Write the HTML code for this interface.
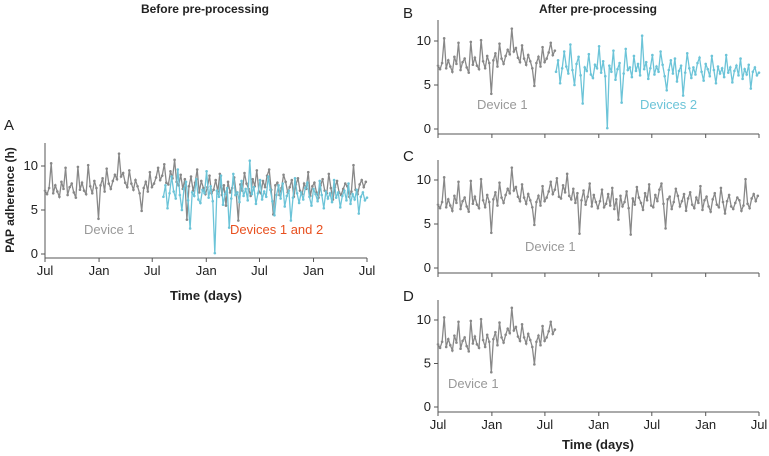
<!DOCTYPE html>
<html><head><meta charset="utf-8">
<style>
html,body{margin:0;padding:0;background:#fff;}
svg{display:block;font-family:"Liberation Sans",Arial,sans-serif;}
</style></head>
<body>
<svg id="chart" width="769" height="456" viewBox="0 0 769 456" xmlns="http://www.w3.org/2000/svg">
<text x="205" y="13" text-anchor="middle" font-size="12" font-weight="bold" fill="#222">Before pre-processing</text>
<text x="598" y="13" text-anchor="middle" font-size="12" font-weight="bold" fill="#222">After pre-processing</text>
<text x="4" y="130" font-size="15" fill="#222">A</text>
<text x="403" y="18" font-size="15" fill="#222">B</text>
<text x="403" y="161" font-size="15" fill="#222">C</text>
<text x="403" y="301" font-size="15" fill="#222">D</text>
<text transform="translate(14,200) rotate(-90)" text-anchor="middle" font-size="12" font-weight="bold" fill="#222">PAP adherence (h)</text>
<text x="206" y="300" text-anchor="middle" font-size="13" font-weight="bold" fill="#222">Time (days)</text>
<text x="598" y="449" text-anchor="middle" font-size="13" font-weight="bold" fill="#222">Time (days)</text>
</svg>
<script>
const tickDays=[0,184,365,549,730,914,1096];
const tickLabels=["Jul","Jan","Jul","Jan","Jul","Jan","Jul"];
const yTicks=[0,5,10];
const device1Start=0;
const device1Step=7;
const device1Values=[7.2,6.8,7.5,10.3,6.9,7.8,7.1,6.5,8.2,7.4,9.8,6.7,7.6,8.0,7.0,6.4,9.9,7.3,8.1,7.2,6.8,10.1,7.7,6.9,8.3,7.5,4.0,
7.8,8.6,7.1,9.7,8.0,7.4,8.3,9.0,8.5,11.4,8.8,9.2,8.1,7.6,9.5,8.0,7.3,8.4,7.7,6.9,4.9,7.5,8.2,7.1,9.3,7.6,
8.0,8.7,9.8,8.4,8.9,10.2,8.1,7.9,9.4,8.6,10.7,8.2,7.8,9.0,7.4,8.5,3.9,7.7,8.8,7.2,8.1,9.6,7.0,8.3,7.5,6.8,
7.6,8.9,6.9,7.3,8.4,7.1,9.1,6.7,7.8,5.5,8.2,7.0,7.5,8.7,6.8,3.8,7.9,7.2,9.2,8.0,7.4,6.6,8.5,7.7,9.5,7.1,
6.9,8.3,7.6,8.9,9.6,7.3,4.5,7.8,8.1,6.7,7.5,9.0,8.2,7.0,7.6,8.4,6.5,7.9,8.6,7.2,6.8,8.0,7.4,9.3,6.6,7.7,
8.1,7.0,6.4,7.8,8.5,7.2,6.9,9.1,7.5,6.2,7.6,8.3,7.0,6.7,7.4,8.0,7.7,6.5,7.1,10.1,7.3,6.8,7.9,8.4,7.6,8.2];
const device2Start=403;
const device2Step=7;
const device2Values=[6.5,7.8,5.2,6.9,8.8,7.1,6.3,9.6,6.7,5.0,7.4,8.2,6.1,2.9,7.0,6.6,8.5,6.2,5.8,7.3,
6.9,9.4,6.4,7.7,6.0,0.1,7.2,6.5,8.9,5.6,6.8,7.5,3.0,6.3,9.1,6.7,7.0,5.9,8.3,6.6,
7.4,6.1,10.6,6.8,7.6,5.7,6.9,8.4,6.2,7.1,6.5,8.8,7.3,6.0,4.4,6.7,7.8,6.3,8.0,5.4,
6.6,7.2,3.8,6.4,8.6,6.9,5.8,7.0,6.2,7.5,8.1,6.5,5.5,7.4,6.8,6.0,8.3,6.7,5.2,7.1,
6.3,6.9,5.9,8.4,6.4,7.0,5.3,6.6,7.2,6.1,8.0,5.7,6.8,6.2,7.3,4.6,6.5,7.0,6.1,6.4];
const device1EndDayAfter=400;

const NS="http://www.w3.org/2000/svg";
const svg=document.getElementById('chart');
function mk(tag,attrs,parent){const e=document.createElementNS(NS,tag);for(const k in attrs)e.setAttribute(k,attrs[k]);(parent||svg).appendChild(e);return e;}

const panels=[
 {id:'a',x0:45,x1:367,y0:254,y10:166,top:143,axisY:258,labels:true,series:[['d1',0,Infinity],['d2',0,Infinity]],texts:[['Device 1',84,234,'#999'],['Devices 1 and 2',230,234,'#e8501f']]},
 {id:'b',x0:438,x1:759,y0:129,y10:41,top:20,axisY:134,labels:false,series:[['d1',0,device1EndDayAfter],['d2',0,Infinity]],texts:[['Device 1',477,109,'#999'],['Devices 2',640,109,'#6cc4d8']]},
 {id:'c',x0:438,x1:759,y0:268,y10:180,top:160,axisY:273,labels:false,series:[['d1',0,Infinity]],texts:[['Device 1',525,251,'#999']]},
 {id:'d',x0:438,x1:759,y0:407,y10:320,top:300,axisY:412,labels:true,series:[['d1',0,device1EndDayAfter]],texts:[['Device 1',448,388,'#999']]}
];
panels.forEach(p=>{
 const xs=d=>p.x0+d/1096*(p.x1-p.x0);
 const ys=v=>p.y0+(p.y10-p.y0)*v/10;
 const g=mk('g',{});
 
 
 const ya=mk('line',{x1:p.x0,x2:p.x0,y1:p.top,y2:p.axisY,stroke:'#555','stroke-width':1},g);
 
 
 const xa=mk('line',{x1:p.x0,x2:p.x1,y1:p.axisY,y2:p.axisY,stroke:'#555','stroke-width':1},g);
 
 
 yTicks.forEach(v=>{
  mk('line',{x1:p.x0-4,x2:p.x0,y1:ys(v),y2:ys(v),stroke:'#555'},g);
  const t=mk('text',{x:p.x0-7,y:ys(v)+4,'text-anchor':'end','font-size':13,fill:'#222'},g);
  t.textContent=v;
  
  
 });
 tickDays.forEach((d,i)=>{
  mk('line',{x1:xs(d),x2:xs(d),y1:p.axisY,y2:p.axisY+4,stroke:'#555'},g);
  if(p.labels){
   const t=mk('text',{x:xs(d),y:p.axisY+17,'text-anchor':'middle','font-size':13,fill:'#222'},g);
   t.textContent=tickLabels[i];
   
   
  }
 });
 p.series.forEach(([s,from,to])=>{
  const vals=s==='d1'?device1Values:device2Values;
  const st=s==='d1'?device1Start:device2Start;
  const step=s==='d1'?device1Step:device2Step;
  const col=s==='d1'?'#888':'#6cc4d8';
  const pts=[];
  vals.forEach((v,i)=>{const d=st+i*step;if(d>=from&&d<=to)pts.push([xs(d),ys(v)]);});
  const pl=mk('polyline',{points:pts.map(q=>q[0].toFixed(1)+','+q[1].toFixed(1)).join(' '),fill:'none',stroke:col,'stroke-width':1.3},g);
  
  
  pts.forEach(q=>{
   const c=mk('circle',{cx:q[0],cy:q[1],r:1.3,fill:col},g);
   
   
  });
 });
 p.texts.forEach(([txt,x,y,col])=>{
  const t=mk('text',{x:x,y:y,'font-size':13,fill:col},g);
  t.textContent=txt;
  
  
 });
});
</script>
</body></html>
